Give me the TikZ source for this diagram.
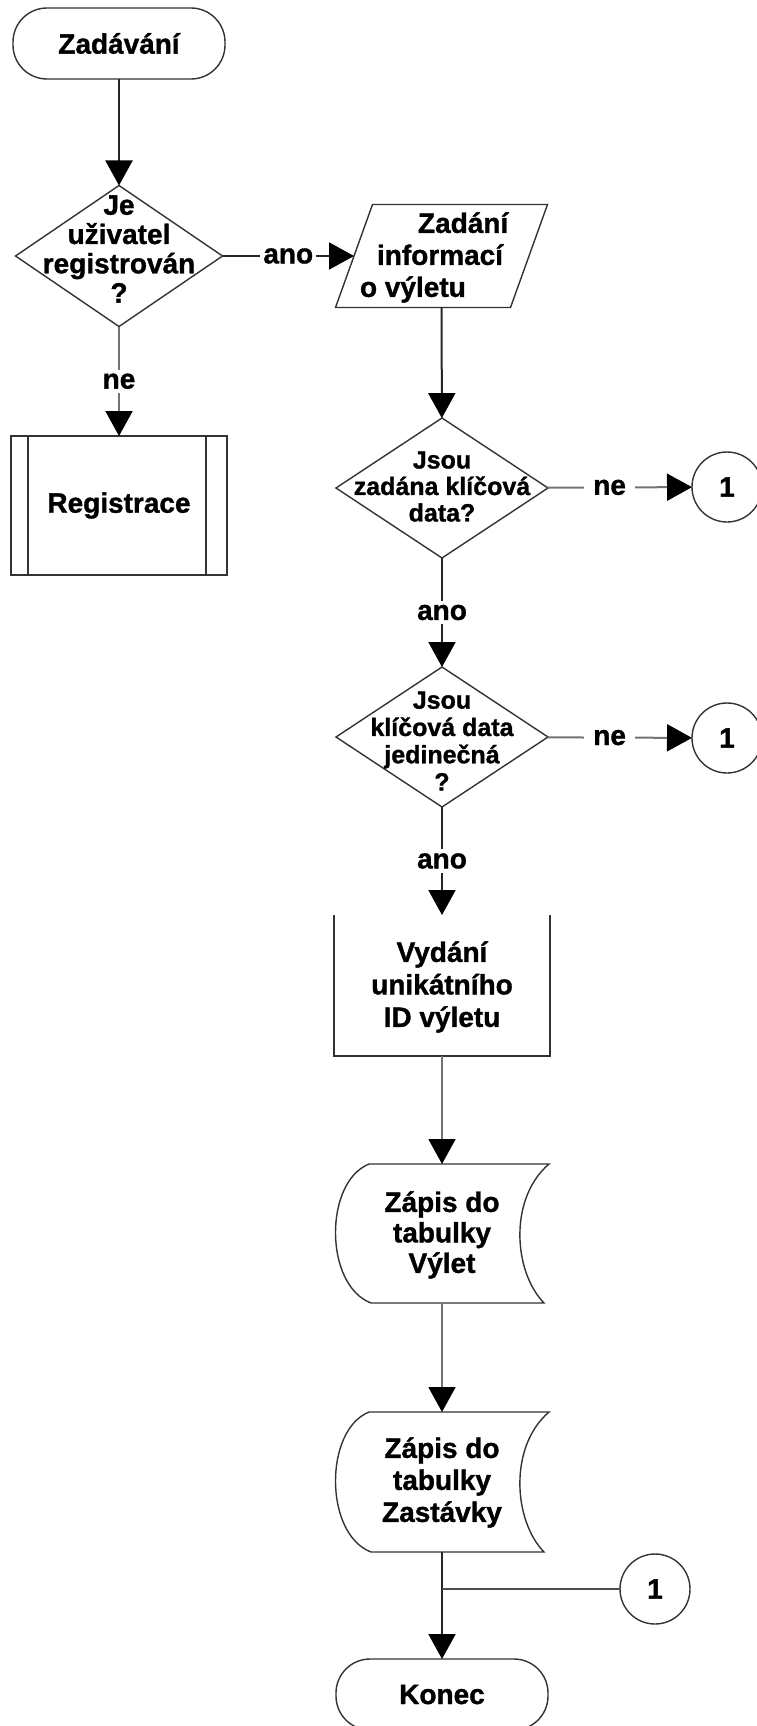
\documentclass[tikz,border=0pt]{standalone}
\usepackage{fontspec}
\setmainfont{Liberation Sans}[BoldFeatures={FakeBold=1.2}]
\usetikzlibrary{shapes.geometric,arrows.meta,calc}
\newcommand\fsz[2]{\bfseries\fontsize{#1}{#2}\selectfont}
\begin{document}
\begin{tikzpicture}[x=1pt,y=-1pt,
  every node/.style={inner sep=0pt,outer sep=0pt,font=\fsz{28}{30}},
  border/.style={draw=black!80,line width=1.4pt},
  terminal/.style={border,rectangle,rounded corners=34pt,minimum width=212pt,minimum height=71pt},
  decision/.style={border,diamond,minimum width=#1,minimum height=141pt},
  onpage/.style={border,circle,minimum size=70pt},
  txt/.style={align=center,font=\fsz{28}{#1}},
  smalltxt/.style={align=center,font=\fsz{25}{#1}},
  flow/.style={draw=black!85,line width=2pt,-{Triangle[length=25pt,width=27pt,color=black]}},
  flowlight/.style={flow,draw=black!55},
  plain/.style={draw=black!70,line width=2pt},
  tag/.style={fill=white,inner xsep=3pt,inner ysep=4pt}
]
\path[use as bounding box] (0,0) rectangle (757,1726);

% left column
\node[terminal] (start) at (119,43.5) {Zadávání};
\node[decision=207pt] (d1) at (119,256) {};
\node[txt=29.3] (d1t) at (119,249) {Je\\uživatel\\registrován\\?};
\node[border,rectangle,minimum width=216pt,minimum height=139pt] (reg) at (119,505.5) {Registrace};
\draw[border] ([xshift=17pt]reg.north west) -- ([xshift=17pt]reg.south west)
              ([xshift=-21pt]reg.north east) -- ([xshift=-21pt]reg.south east);

% input parallelogram (node box = its mid-width band)
\node[minimum width=175pt,minimum height=103pt] (inp) at (441.5,256) {};
\draw[border] ($(inp.south west)+(-18.5,0)$) -- ($(inp.north west)+(18.5,0)$)
  -- ($(inp.north east)+(18.5,0)$) -- ($(inp.south east)+(-18.5,0)$) -- cycle;
\node[txt=32,align=left,anchor=west] (inpt) at (360,257.5)
  {\hspace*{58pt}Zadání\\\hspace*{17pt}informací\\o výletu};

\node[decision=212pt,minimum height=140pt] (d2) at (442,488) {};
\node[smalltxt=26.5] (d2t) at (442,486.5) {Jsou\\zadána klíčová\\data?};
\node[onpage] (c1) at (727,487) {1};

\node[decision=212pt,minimum height=140pt] (d3) at (442,737) {};
\node[smalltxt=27.3] (d3t) at (442,741) {Jsou\\klíčová data\\jedinečná\\?};
\node[onpage] (c2) at (727,738) {1};

\node[minimum width=216pt,minimum height=141pt] (proc) at (442,985.5) {};
\draw[border] (proc.north west) -- (proc.south west) -- (proc.south east) -- (proc.north east);
\node[txt=32.5] (proct) at (442,987) {Vydání\\unikátního\\ID výletu};

% stored data shapes
\node[minimum width=214pt,minimum height=139pt] (s1) at (442,1233.5) {};
\draw[border] ($(s1.north west)+(34,0)$) -- (s1.north east)
  .. controls ($(s1.north east)+(-40,34)$) and ($(s1.south east)+(-36,-32)$) .. ($(s1.south east)+(-5,0)$)
  -- ($(s1.south west)+(36,0)$)
  .. controls ($(s1.south west)+(-11,-18)$) and ($(s1.north west)+(-11,18)$) .. cycle;
\node[txt=30.5] (s1t) at (442,1235) {Zápis do\\tabulky\\Výlet};

\node[minimum width=214pt,minimum height=140pt] (s2) at (442,1482) {};
\draw[border] ($(s2.north west)+(34,0)$) -- (s2.north east)
  .. controls ($(s2.north east)+(-40,34)$) and ($(s2.south east)+(-36,-32)$) .. ($(s2.south east)+(-5,0)$)
  -- ($(s2.south west)+(36,0)$)
  .. controls ($(s2.south west)+(-11,-18)$) and ($(s2.north west)+(-11,18)$) .. cycle;
\node[txt=32] (s2t) at (442,1482.5) {Zápis do\\tabulky\\Zastávky};

\node[onpage] (c3) at (655,1589) {1};
\coordinate (jn) at (442,1589);
\node[terminal] (end) at (442,1694.5) {Konec};

% connectors
\draw[flow] (start) -- (d1);
\draw[flow] (d1) -- node[tag] (l1) {ano} (inp);
\draw[flowlight] (d1) -- node[tag] (l2) {ne} (reg);
\draw[flow] (inp) -- (d2);
\draw[flowlight] (d2) -- node[tag,pos=0.43,inner xsep=9pt] (l3) {ne} (c1);
\draw[flow] (d2) -- node[tag] (l4) {ano} (d3);
\draw[flowlight] (d3) -- node[tag,pos=0.43,inner xsep=9pt] (l5) {ne} (c2);
\draw[flow] (d3) -- node[tag] (l6) {ano} (proc);
\draw[flowlight] (proc) -- (s1);
\draw[flowlight] (s1) -- (s2);
\draw[flow] (s2) -- (end);
\draw[plain] (c3) -- (jn);
\end{tikzpicture}
\end{document}
